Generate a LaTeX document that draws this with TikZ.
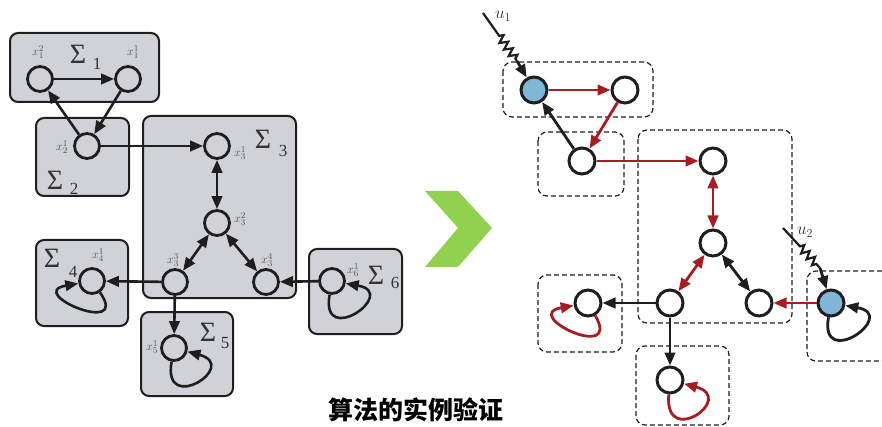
\documentclass[tikz,border=0pt]{standalone}
\usepackage{fontspec}
\setmainfont{Liberation Serif}
\newfontfamily\cjk{Noto Sans CJK SC}
\usetikzlibrary{arrows.meta,decorations.pathmorphing}
\definecolor{boxgray}{HTML}{D1D2D7}
\definecolor{edgedark}{HTML}{1E1E1E}
\definecolor{darkred}{HTML}{A61C22}
\definecolor{nodeblue}{HTML}{80B7D6}
\definecolor{chev}{HTML}{92D050}
\definecolor{lbl}{HTML}{555555}
\definecolor{sigc}{HTML}{333333}
\tikzset{
  gbox/.style={draw=edgedark, line width=2pt, fill=boxgray, rounded corners=8pt},
  dbox/.style={draw=edgedark, line width=1.2pt, dash pattern=on 5pt off 3pt, rounded corners=9pt},
  lvtx/.style={circle, draw=edgedark, line width=2.8pt, minimum size=25pt, inner sep=0pt},
  rvtx/.style={circle, draw=edgedark, line width=3pt, minimum size=26pt, inner sep=0pt, fill=white},
  bvtx/.style={rvtx, fill=nodeblue},
  tip/.tip={Triangle[length=13pt,width=10.5pt]},
  arr/.style={line width=2.6pt, draw=edgedark, -tip},
  barr/.style={line width=2.6pt, draw=edgedark, tip-tip},
  rarr/.style={line width=2.8pt, draw=darkred, -tip},
  rbarr/.style={line width=2.8pt, draw=darkred, tip-tip},
  karr/.style={line width=2.8pt, draw=edgedark, -tip},
  kbarr/.style={line width=2.8pt, draw=edgedark, tip-tip},
  sig/.style={font=\fontsize{28}{28}\selectfont, text=sigc, inner sep=0pt},
  sigsub/.style={font=\fontsize{17}{17}\selectfont, text=sigc, inner sep=0pt},
  xl/.style={font=\fontsize{13}{13}\selectfont, text=lbl, inner sep=0pt},
  ul/.style={font=\fontsize{17}{17}\selectfont, text=sigc, inner sep=0pt},
  zz/.style={line width=2.2pt, draw=edgedark, decorate,
    decoration={zigzag, segment length=8pt, amplitude=4pt, pre length=#1, post length=2pt}},
}
\begin{document}
\begin{tikzpicture}[x=1pt,y=1pt]
\useasboundingbox (0,0) rectangle (882,-427);
\clip (0,0) rectangle (882,-427);

% ---------------- left diagram: boxes
\draw[gbox] (10,-33) rectangle (159,-102);
\draw[gbox] (36,-118) rectangle (129,-196);
\draw[gbox] (143,-116) rectangle (296,-298);
\draw[gbox] (36,-240) rectangle (128,-326);
\draw[gbox] (141,-312) rectangle (233,-396);
\draw[gbox] (309,-249) rectangle (402,-334);

% sigma labels
\node[sig] (S1) at (78,-54) {Σ};   \node[sigsub] (S1i) at (97,-64) {1};
\node[sig] (S2) at (55,-180) {Σ};  \node[sigsub] (S2i) at (74,-189) {2};
\node[sig] (S3) at (263,-139) {Σ}; \node[sigsub] (S3i) at (283,-151) {3};
\node[sig] (S4) at (52,-258) {Σ};  \node[sigsub] (S4i) at (73,-272) {4};
\node[sig] (S5) at (208,-332) {Σ}; \node[sigsub] (S5i) at (225,-343) {5};
\node[sig] (S6) at (376,-275) {Σ}; \node[sigsub] (S6i) at (395,-283) {6};

% left nodes
\node[lvtx] (n12) at (40,-79) {};
\node[lvtx] (n11) at (128,-79) {};
\node[lvtx] (n21) at (87,-146) {};
\node[lvtx] (n31) at (217,-146) {};
\node[lvtx] (n32) at (217,-223) {};
\node[lvtx] (n33) at (175,-282) {};
\node[lvtx] (n34) at (266,-282) {};
\node[lvtx] (n41) at (92,-281) {};
\node[lvtx] (n51) at (174,-348) {};
\node[lvtx] (n61) at (332,-281) {};

% small labels
\node[xl] (l12) at (38,-52) {$x_1^2$};
\node[xl] (l11) at (133,-52) {$x_1^1$};
\node[xl] (l21) at (62,-147) {$x_2^1$};
\node[xl] (l31) at (240,-153) {$x_3^1$};
\node[xl] (l32) at (240,-219) {$x_3^2$};
\node[xl] (l33) at (173,-260) {$x_3^3$};
\node[xl] (l34) at (267,-260) {$x_3^4$};
\node[xl] (l41) at (98,-255) {$x_4^1$};
\node[xl] (l51) at (152,-347) {$x_5^1$};
\node[xl] (l61) at (353,-270) {$x_6^1$};

% left edges
\draw[arr] (n12) -- (n11);
\draw[arr] (n11) -- (n21);
\draw[arr] (n21) -- (n12);
\draw[arr] (n21) -- (n31);
\draw[barr] (n31) -- (n32);
\draw[barr] (n32) -- (n33);
\draw[barr] (n32) -- (n34);
\draw[arr] (n33) -- (n41);
\draw[arr] (n33) -- (n51);
\draw[arr] (n61) -- (n34);
\draw[arr] (n41) to[out=-55,in=190,min distance=55pt] (n41);
\draw[arr] (n51) to[out=-100,in=-15,min distance=55pt] (n51);
\draw[arr] (n61) to[out=-100,in=-10,min distance=55pt] (n61);

% ---------------- chevron
\fill[chev] (425,-191) -- (458,-191) -- (492,-228) -- (458,-267) -- (425,-267) -- (458,-228) -- cycle;

% ---------------- right diagram: dashed boxes
\draw[dbox] (503,-62) rectangle (653,-117);
\draw[dbox] (538,-132) rectangle (624,-196);
\draw[dbox] (638,-130) rectangle (792,-323);
\draw[dbox] (538,-275) rectangle (622,-352);
\draw[dbox] (636,-346) rectangle (729,-425);
\draw[dbox] (807,-271) rectangle (905,-361);

% right nodes
\node[bvtx] (b1) at (534,-90) {};
\node[rvtx] (r12) at (625,-90) {};
\node[rvtx] (r21) at (582,-161) {};
\node[rvtx] (r31) at (713,-161) {};
\node[rvtx] (r32) at (713,-243) {};
\node[rvtx] (r33) at (670,-303) {};
\node[rvtx] (r34) at (759,-303) {};
\node[rvtx] (r41) at (588,-303) {};
\node[rvtx] (r51) at (670,-380) {};
\node[bvtx] (b6) at (831,-303) {};

% right edges
\draw[rarr] (b1) -- (r12);
\draw[rarr] (r12) -- (r21);
\draw[karr] (r21) -- (b1);
\draw[rarr] (r21) -- (r31);
\draw[rbarr] (r31) -- (r32);
\draw[rbarr] (r32) -- (r33);
\draw[kbarr] (r32) -- (r34);
\draw[karr] (r33) -- (r41);
\draw[karr] (r33) -- (r51);
\draw[rarr] (b6) -- (r34);
\draw[rarr] (r41) to[out=-60,in=190,min distance=55pt] (r41);
\draw[rarr] (r51) to[out=-95,in=-15,min distance=55pt] (r51);
\draw[karr] (b6) to[out=-100,in=-10,min distance=55pt] (b6);

% inputs
\coordinate (u1s) at (483,-13);
\coordinate (u1m) at (517,-61);
\draw[zz=28pt] (u1s) -- (u1m);
\draw[karr] (u1m) -- (b1);
\node[ul] (u1) at (503,-16) {$u_1$};
\coordinate (u2s) at (783,-228);
\coordinate (u2m) at (820,-268);
\draw[zz=25pt] (u2s) -- (u2m);
\draw[karr] (u2m) -- (b6);
\node[ul] (u2) at (805,-232) {$u_2$};

% title
\node[font=\cjk\bfseries\fontsize{25}{25}\selectfont, inner sep=0pt] (title) at (416,-410) {算法的实例验证};
\end{tikzpicture}
\end{document}
